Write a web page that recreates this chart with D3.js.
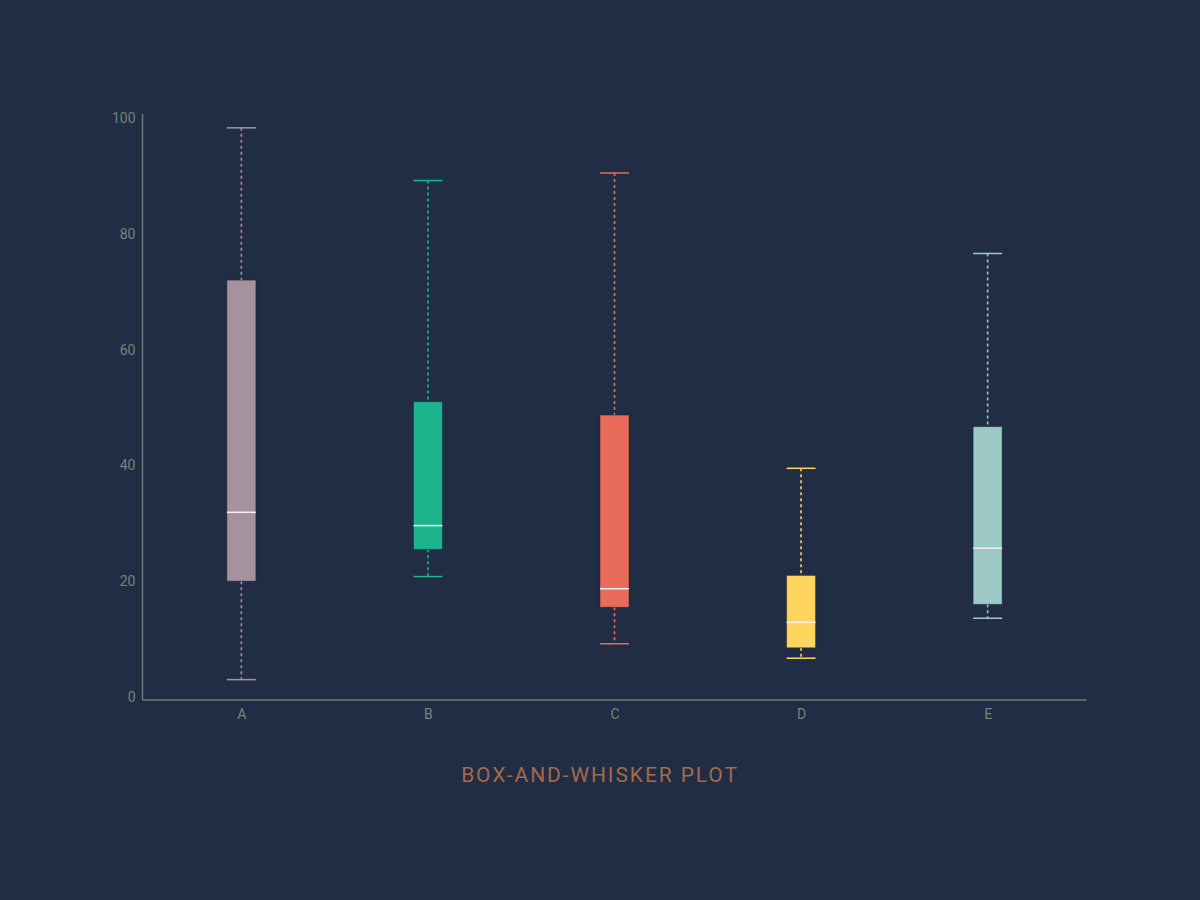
<!DOCTYPE html>
<html>
<head>
<meta charset="utf-8">
<script src="https://cdn.jsdelivr.net/npm/d3@7"></script>
<style>
  html, body { margin: 0; padding: 0; background: #212d44; }
  svg { display: block; }
</style>
</head>
<body>
<svg id="chart" width="1200" height="900"></svg>
<script>
const categories = ["A", "B", "C", "D", "E"];
const whiskerLow  = [3.0, 20.8, 9.2, 6.7, 13.6];
const boxLow      = [20.0, 25.5, 15.5, 8.5, 16.0];
const medians     = [31.9, 29.6, 18.7, 12.9, 25.7];
const boxHigh     = [72.0, 51.0, 48.7, 21.0, 46.7];
const whiskerHigh = [98.3, 89.2, 90.5, 39.5, 76.6];
const colors      = ["#a6919f", "#1cb48d", "#e96b5a", "#ffd55b", "#9dc9c6"];
const yTicks      = [0, 20, 40, 60, 80, 100];
const title       = "BOX-AND-WHISKER PLOT";

const data = categories.map((c, i) => ({
  cat: c, wl: whiskerLow[i], q1: boxLow[i], med: medians[i],
  q3: boxHigh[i], wh: whiskerHigh[i], color: colors[i]
}));

const svg = d3.select("#chart");
svg.append("rect").attr("width", 1200).attr("height", 900).attr("fill", "#212d44");

const x0 = 142.5, x1 = 1086.5, yBase = 700, yTop = 114;
const x = d3.scalePoint().domain(categories).range([x0, x1]).padding(0.53);
const y = d3.scaleLinear().domain([0, 100]).range([697, 118]);
const boxW = 29;
const font = "Roboto, 'Noto Sans', sans-serif";
const axisColor = "#6f7c73";
const labelColor = "#768479";

// axes lines
svg.append("line").attr("x1", x0).attr("x2", x0).attr("y1", yTop).attr("y2", yBase)
  .attr("stroke", axisColor).attr("stroke-width", 1.5);
svg.append("line").attr("x1", x0).attr("x2", x1).attr("y1", yBase).attr("y2", yBase)
  .attr("stroke", axisColor).attr("stroke-width", 1.5);

// y tick labels via axis
const yAxis = d3.axisLeft(y).tickValues(yTicks).tickSize(0).tickPadding(0);
const gy = svg.append("g").attr("transform", `translate(${x0 - 7},0)`).call(yAxis);
gy.attr("font-family", null).attr("font-size", null);
gy.select(".domain").remove();
gy.selectAll("text").attr("fill", labelColor)
  .style("font-family", font).style("font-size", "14px");

// x tick labels via axis
const xAxis = d3.axisBottom(x).tickSize(0).tickPadding(0);
const gx = svg.append("g").attr("transform", `translate(0,${yBase + 9})`).call(xAxis);
gx.attr("font-family", null).attr("font-size", null);
gx.select(".domain").remove();
gx.selectAll("text").attr("fill", labelColor)
  .style("font-family", font).style("font-size", "14px");

const g = svg.append("g").selectAll("g.box").data(data).join("g").attr("class", "box");

// whiskers (dashed)
g.append("line")
  .attr("x1", d => x(d.cat)).attr("x2", d => x(d.cat))
  .attr("y1", d => y(d.wh)).attr("y2", d => y(d.q3))
  .attr("stroke", d => d.color).attr("stroke-width", 1.6).attr("stroke-dasharray", "3,3");
g.append("line")
  .attr("x1", d => x(d.cat)).attr("x2", d => x(d.cat))
  .attr("y1", d => y(d.q1)).attr("y2", d => y(d.wl))
  .attr("stroke", d => d.color).attr("stroke-width", 1.6).attr("stroke-dasharray", "3,3");

// caps
g.append("line")
  .attr("x1", d => x(d.cat) - boxW / 2).attr("x2", d => x(d.cat) + boxW / 2)
  .attr("y1", d => y(d.wh)).attr("y2", d => y(d.wh))
  .attr("stroke", d => d.color).attr("stroke-width", 1.5);
g.append("line")
  .attr("x1", d => x(d.cat) - boxW / 2).attr("x2", d => x(d.cat) + boxW / 2)
  .attr("y1", d => y(d.wl)).attr("y2", d => y(d.wl))
  .attr("stroke", d => d.color).attr("stroke-width", 1.5);

// boxes
g.append("rect")
  .attr("x", d => x(d.cat) - boxW / 2).attr("width", boxW)
  .attr("y", d => y(d.q3)).attr("height", d => y(d.q1) - y(d.q3))
  .attr("fill", d => d.color)
  .attr("stroke", "rgba(20,28,45,0.45)").attr("stroke-width", 1);

// medians
g.append("line")
  .attr("x1", d => x(d.cat) - boxW / 2).attr("x2", d => x(d.cat) + boxW / 2)
  .attr("y1", d => y(d.med)).attr("y2", d => y(d.med))
  .attr("stroke", "#f4f1ec").attr("stroke-width", 1.5);

// title
svg.append("text").attr("x", 600).attr("y", 782).attr("text-anchor", "middle")
  .attr("fill", "#a36a4b").style("font-family", font).style("font-size", "21px")
  .attr("letter-spacing", 1.9).text(title);
</script>
</body>
</html>
